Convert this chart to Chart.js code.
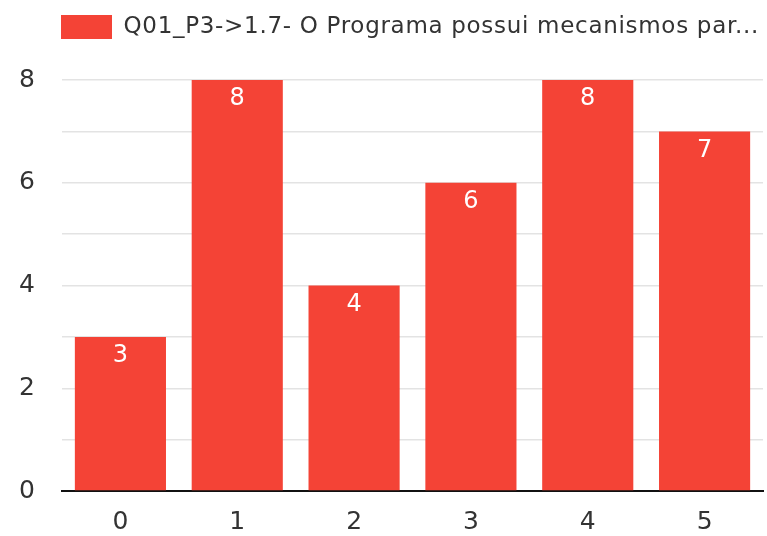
<!DOCTYPE html>
<html>
<head>
<meta charset="utf-8">
<script src="https://cdn.jsdelivr.net/npm/chart.js@4/dist/chart.umd.min.js"></script>
<style>
  html, body { margin: 0; padding: 0; background: #fff; }
  #wrap { width: 767px; height: 536px; }
</style>
</head>
<body>
<div id="wrap"><canvas id="barChart"></canvas></div>
<script>
// chart data
const categories = ["0", "1", "2", "3", "4", "5"];
const counts = [3, 8, 4, 6, 8, 7];
const seriesLabel = "Q01_P3->1.7- O Programa possui mecanismos par...";
const yTickLabels = [0, 2, 4, 6, 8];

const fontName = "DejaVu Sans";

// draws the value in white near the top of each bar
const valueLabels = {
    id: "valueLabels",
    afterDatasetsDraw(chart) {
        const ctx = chart.ctx;
        const meta = chart.getDatasetMeta(0);
        ctx.save();
        ctx.fillStyle = "#ffffff";
        ctx.font = "24px '" + fontName + "'";
        ctx.textAlign = "center";
        ctx.textBaseline = "top";
        meta.data.forEach(function (bar, i) {
            ctx.fillText(String(counts[i]), bar.x, bar.y + 7);
        });
        ctx.restore();
    }
};

// wider legend text, nudged right, plus extra space between legend and plot
const legendTweak = {
    id: "legendTweak",
    beforeInit(chart) {
        const legend = chart.legend;
        const fit = legend.fit;
        const draw = legend.draw;
        legend.fit = function () {
            chart.ctx.save();
            chart.ctx.letterSpacing = "0.7px";
            fit.apply(legend, arguments);
            chart.ctx.restore();
            this.height += 31;
        };
        legend.draw = function () {
            chart.ctx.save();
            chart.ctx.letterSpacing = "0.7px";
            chart.ctx.translate(8, 0);
            draw.apply(legend, arguments);
            chart.ctx.restore();
        };
    }
};

var ctx = document.getElementById("barChart").getContext("2d");
new Chart(ctx, {
    type: "bar",
    data: {
        labels: categories,
        datasets: [{
            label: seriesLabel,
            data: counts,
            backgroundColor: "#f44336",
            borderWidth: 0,
            barPercentage: 0.78,
            categoryPercentage: 1.0
        }]
    },
    options: {
        responsive: true,
        maintainAspectRatio: false,
        animation: false,
        layout: { padding: { left: 20, right: 4, top: 3, bottom: 2 } },
        plugins: {
            legend: {
                align: "end",
                labels: {
                    boxWidth: 51,
                    boxHeight: 24,
                    color: "#333",
                    font: { family: fontName, size: 23 },
                    padding: 12
                }
            },
            tooltip: { enabled: false }
        },
        scales: {
            x: {
                afterFit: function (scale) { scale.height = 43; },
                grid: { display: false, drawTicks: false },
                border: { color: "#111", width: 2 },
                ticks: { color: "#333", font: { family: fontName, size: 25 }, padding: 16 }
            },
            y: {
                min: 0,
                max: 8,
                afterFit: function (scale) { scale.width = 42; },
                grid: { color: "#e3e3e3", lineWidth: 1.5, drawTicks: false },
                border: { display: false },
                ticks: {
                    stepSize: 1,
                    autoSkip: false,
                    color: "#333",
                    padding: 27,
                    font: { family: fontName, size: 25 },
                    callback: function (v) { return yTickLabels.indexOf(v) >= 0 ? String(v) : ""; }
                }
            }
        }
    },
    plugins: [valueLabels, legendTweak]
});
</script>
</body>
</html>
